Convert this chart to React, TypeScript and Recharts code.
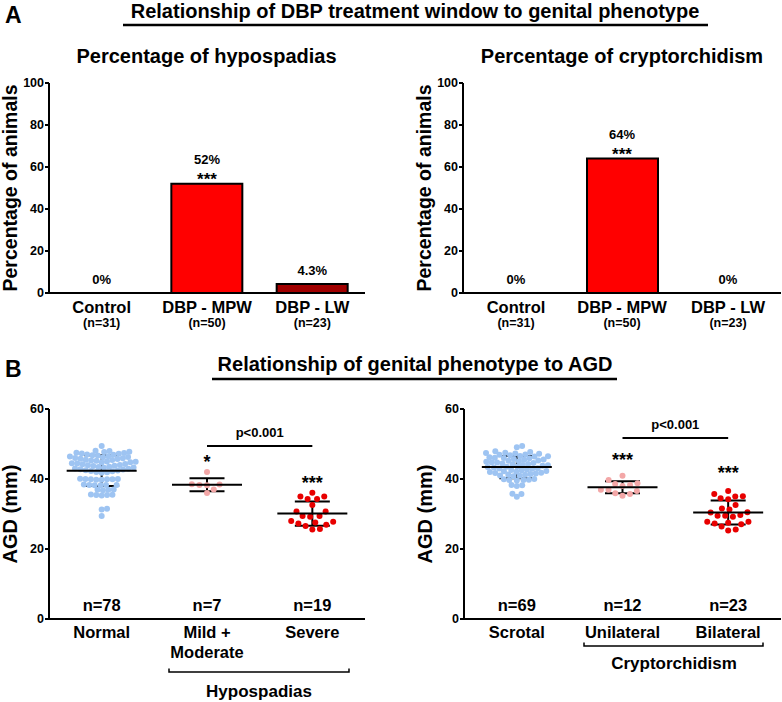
import React from "react";
import {
  ComposedChart,
  Bar,
  Line,
  XAxis,
  YAxis,
  Cell,
  ScatterChart,
  Scatter,
  ErrorBar,
  ReferenceLine,
} from "recharts";

const FONT = '"Liberation Sans", Arial, Helvetica, sans-serif';

// ---- panel A data ----
const treatGroups = ["Control", "DBP - MPW", "DBP - LW"];
const treatN = ["(n=31)", "(n=50)", "(n=23)"];
const hypoPct = [0, 52, 4.3];
const hypoText = ["0%", "52%", "4.3%"];
const hypoStars = ["", "***", ""];
const cryptoPct = [0, 64, 0];
const cryptoText = ["0%", "64%", "0%"];
const cryptoStars = ["", "***", ""];
const barFills = ["#ff0000", "#ff0000", "#a10000"];
const pctTicks = [0, 20, 40, 60, 80, 100];

// ---- panel B data ----
const hypoGroups = [["Normal"], ["Mild +", "Moderate"], ["Severe"]];
const hypoN = ["n=78", "n=7", "n=19"];
const normalAgd = [
  29.4, 31.3, 31.5, 35.3, 35.4, 35.4, 35.5, 35.6, 36.8, 36.9, 37.0, 36.9,
  38.2, 38.3, 38.3, 38.4, 38.2, 38.3, 39.8, 39.9, 40.0, 39.9, 40.1, 39.8,
  40.0, 39.9, 49.4, 48.0, 48.1, 41.8, 41.9, 42.0, 42.2, 42.3, 42.4, 42.5,
  42.7, 42.8, 42.9, 43.0, 43.2, 43.3, 43.4, 43.5, 43.7, 43.8, 43.9, 44.0,
  44.2, 44.3, 44.4, 44.5, 44.7, 44.8, 44.9, 45.0, 45.2, 45.3, 45.4, 45.5,
  45.7, 45.8, 45.9, 46.0, 46.2, 46.3, 46.4, 46.5, 46.7, 46.8, 46.9, 47.0,
  47.2, 47.3, 47.4, 47.5, 47.7, 47.8,
];
const mildAgd = [42.0, 38.5, 38.4, 38.3, 38.2, 37.0, 36.0];
const severeAgd = [
  35.0, 34.3, 32.6, 34.3, 35.0, 36.1, 30.7, 30.7, 29.4, 29.2, 29.4, 27.8,
  27.3, 28.0, 27.6, 26.6, 26.9, 25.6, 25.7,
];
const hypoSig = ["", "*", "***"];
const hypoSigAt = [0, 46.0, 40.0];
const hypoPLine = 49.4;

const cryptoGroups = [["Scrotal"], ["Unilateral"], ["Bilateral"]];
const cryptoN = ["n=69", "n=12", "n=23"];
const scrotalAgd = [
  34.9, 35.7, 35.8, 38.2, 38.3, 38.0, 39.6, 39.7, 39.8, 39.9, 40.0, 39.7,
  49.4, 49.1, 40.8, 40.9, 41.0, 41.2, 41.3, 41.4, 41.6, 41.7, 41.8, 42.0,
  42.1, 42.2, 42.3, 42.5, 42.6, 42.7, 42.9, 43.0, 43.1, 43.3, 43.4, 43.5,
  43.6, 43.8, 43.9, 44.0, 44.2, 44.3, 44.4, 44.6, 44.7, 44.8, 44.9, 45.1,
  45.2, 45.3, 45.5, 45.6, 45.7, 45.9, 46.0, 46.1, 46.2, 46.4, 46.5, 46.6,
  46.8, 46.9, 47.0, 47.2, 47.3, 47.4, 47.5, 47.7, 47.9,
];
const uniAgd = [40.9, 39.7, 38.8, 38.3, 38.6, 38.0, 36.9, 36.9, 36.6, 35.9, 35.7, 35.2];
const biAgd = [
  36.6, 35.1, 34.5, 34.2, 35.0, 35.7, 32.6, 31.3, 31.6, 30.4, 30.5, 29.7,
  29.5, 29.2, 29.5, 27.8, 27.1, 27.8, 27.3, 27.5, 26.4, 25.3, 25.6,
];
const cryptoSig = ["", "***", "***"];
const cryptoSigAt = [0, 46.6, 42.9];
const cryptoPLine = 51.7;

const dotFills = ["#9ec4f2", "#f3a7a7", "#e80000"];
const agdTicks = [0, 20, 40, 60];

// pixel size of one unit on the scatter axes (plot 210px tall for 60, ~316px wide for 3 groups)
const Y_PX = 210 / 60;
const X_PX = 316 / 3;
const DOT_R = 3;
// dot spacing used by the swarm: tight for the big groups, looser for the small ones
const SWARM_D = [5.4, 7.6, 7.6];

// simple beeswarm: ascending order, each dot as close to centre as it can go
function swarm(values: number[], d: number): number[] {
  const order = values.map((_, i) => i).sort((a, b) => values[a] - values[b]);
  const placed: { x: number; y: number }[] = [];
  const out = new Array(values.length).fill(0);
  order.forEach((i) => {
    const y = values[i] * Y_PX;
    const near = placed.filter((p) => Math.abs(p.y - y) < d);
    const cands = [0];
    near.forEach((p) => {
      const dx = Math.sqrt(d * d - (p.y - y) * (p.y - y));
      cands.push(p.x + dx, p.x - dx);
    });
    cands.sort((a, b) => Math.abs(a) - Math.abs(b));
    const x =
      cands.find((c) => near.every((p) => (p.x - c) ** 2 + (p.y - y) ** 2 >= d * d - 1e-6)) ?? 0;
    placed.push({ x, y });
    out[i] = x;
  });
  return out;
}

const mean = (v: number[]) => v.reduce((s, a) => s + a, 0) / v.length;
const sd = (v: number[]) => {
  const m = mean(v);
  return Math.sqrt(v.reduce((s, a) => s + (a - m) ** 2, 0) / (v.length - 1));
};

const txt = { fontFamily: FONT, fontWeight: "bold" as const, fill: "#000" };

function TreatTick(props: any) {
  const { x, y, payload } = props;
  const i = treatGroups.indexOf(payload.value);
  return (
    <g>
      <text x={x} y={y + 20} textAnchor="middle" fontSize={16.5} {...txt}>
        {treatGroups[i]}
      </text>
      <text x={x} y={y + 34} textAnchor="middle" fontSize={12.5} {...txt}>
        {treatN[i]}
      </text>
    </g>
  );
}

function PercentChart({ left, width, mLeft, right, pct, texts, stars }: any) {
  const data = treatGroups.map((g, i) => ({ name: g, v: pct[i] }));
  // value labels drawn as the dots of an invisible line, so zero bars get theirs too
  const labelDot = (p: any) => {
    const i = treatGroups.indexOf(p.payload.name);
    const s = stars[i];
    return (
      <g key={i}>
        {s ? (
          <text x={p.cx} y={p.cy + 1} textAnchor="middle" fontSize={17} {...txt}>
            {s}
          </text>
        ) : null}
        <text x={p.cx} y={s ? p.cy - 20 : p.cy - 9} textAnchor="middle" fontSize={13} {...txt}>
          {texts[i]}
        </text>
      </g>
    );
  };
  return (
    <div style={{ position: "absolute", left, top: 40 }}>
      <ComposedChart
        width={width}
        height={300}
        data={data}
        margin={{ top: 43, right, left: mLeft, bottom: 0 }}
      >
        <XAxis
          dataKey="name"
          height={47}
          tickSize={0}
          tickMargin={0}
          tickLine={false}
          axisLine={{ stroke: "#000", strokeWidth: 2 }}
          tick={<TreatTick />}
          interval={0}
        />
        <YAxis
          width={49}
          domain={[0, 100]}
          ticks={pctTicks}
          tickSize={4}
          tickMargin={1}
          axisLine={{ stroke: "#000", strokeWidth: 2 }}
          tickLine={{ stroke: "#000", strokeWidth: 2 }}
          tick={{ fontSize: 12.5, ...txt }}
          label={{
            value: "Percentage of animals",
            angle: -90,
            position: "insideLeft",
            offset: 10,
            style: { textAnchor: "middle", fontSize: 19.5, ...txt },
          }}
        />
        <Bar dataKey="v" barSize={71} stroke="#000" strokeWidth={2} isAnimationActive={false}>
          {data.map((_, i) => (
            <Cell key={i} fill={barFills[i]} />
          ))}
        </Bar>
        <Line
          dataKey="v"
          stroke="none"
          dot={labelDot}
          activeDot={false}
          legendType="none"
          isAnimationActive={false}
        />
      </ComposedChart>
    </div>
  );
}

function AgdChart({ left, width, mLeft, right, groups, labels, nText, sig, sigAt, pLine }: any) {
  const sets = groups.map((vals: number[], g: number) => {
    const off = swarm(vals, SWARM_D[g]);
    return vals.map((v, i) => ({ x: g + off[i] / X_PX, y: v }));
  });
  const stats = groups.map((vals: number[], g: number) => ({ x: g, y: mean(vals), sd: sd(vals) }));
  const nData = nText.map((t: string, g: number) => ({ x: g, y: 0, t }));
  const sigData = sig
    .map((t: string, g: number) => ({ x: g, y: sigAt[g], t }))
    .filter((d: any) => d.t);

  const Tick = (p: any) => {
    const lines: string[] = labels[Math.round(p.payload.value)] || [];
    return (
      <g>
        {lines.map((l, k) => (
          <text key={k} x={p.x} y={p.y + 19 + k * 20} textAnchor="middle" fontSize={16.5} {...txt}>
            {l}
          </text>
        ))}
      </g>
    );
  };

  return (
    <div style={{ position: "absolute", left, top: 370 }}>
      <ScatterChart width={width} height={310} margin={{ top: 39, right, left: mLeft, bottom: 0 }}>
        <XAxis
          type="number"
          dataKey="x"
          domain={[-0.5, 2.5]}
          ticks={[0, 1, 2]}
          height={61}
          tickSize={0}
          tickMargin={0}
          tickLine={false}
          axisLine={{ stroke: "#000", strokeWidth: 2 }}
          tick={<Tick />}
          interval={0}
        />
        <YAxis
          type="number"
          dataKey="y"
          width={49}
          domain={[0, 60]}
          ticks={agdTicks}
          tickSize={4}
          tickMargin={1}
          axisLine={{ stroke: "#000", strokeWidth: 2 }}
          tickLine={{ stroke: "#000", strokeWidth: 2 }}
          tick={{ fontSize: 12.5, ...txt }}
          label={{
            value: "AGD (mm)",
            angle: -90,
            position: "insideLeft",
            offset: 10,
            style: { textAnchor: "middle", fontSize: 20, ...txt },
          }}
        />
        {sets.map((pts: any[], g: number) => (
          <Scatter
            key={g}
            data={pts}
            fill={dotFills[g]}
            isAnimationActive={false}
            shape={(p: any) => <circle cx={p.cx} cy={p.cy} r={DOT_R} fill={dotFills[g]} />}
          />
        ))}
        <Scatter
          data={stats}
          isAnimationActive={false}
          shape={(p: any) => (
            <line x1={p.cx - 35} x2={p.cx + 35} y1={p.cy} y2={p.cy} stroke="#000" strokeWidth={2} />
          )}
        >
          <ErrorBar dataKey="sd" direction="y" width={17.5} stroke="#000" strokeWidth={2} isAnimationActive={false} />
        </Scatter>
        <Scatter
          data={nData}
          isAnimationActive={false}
          shape={(p: any) => (
            <text x={p.cx} y={p.cy - 8} textAnchor="middle" fontSize={16.5} {...txt}>
              {p.payload.t}
            </text>
          )}
        />
        <Scatter
          data={sigData}
          isAnimationActive={false}
          shape={(p: any) => (
            <text x={p.cx} y={p.cy + 10} textAnchor="middle" fontSize={18} {...txt}>
              {p.payload.t}
            </text>
          )}
        />
        <ReferenceLine
          segment={[
            { x: 1, y: pLine },
            { x: 2, y: pLine },
          ]}
          stroke="#000"
          strokeWidth={2}
          label={{ value: "p<0.001", position: "top", offset: 9, fontSize: 13, ...txt }}
        />
      </ScatterChart>
    </div>
  );
}

export default function App() {
  return (
    <div
      style={{
        position: "absolute",
        left: 0,
        top: 0,
        width: 782,
        height: 702,
        background: "#fff",
        fontFamily: FONT,
      }}
    >
      <PercentChart left={0} width={370} mLeft={0} right={5} pct={hypoPct} texts={hypoText} stars={hypoStars} />
      <PercentChart left={403} width={379} mLeft={11} right={1} pct={cryptoPct} texts={cryptoText} stars={cryptoStars} />
      <AgdChart
        left={0}
        width={370}
        mLeft={0}
        right={5}
        groups={[normalAgd, mildAgd, severeAgd]}
        labels={hypoGroups}
        nText={hypoN}
        sig={hypoSig}
        sigAt={hypoSigAt}
        pLine={hypoPLine}
      />
      <AgdChart
        left={404}
        width={378}
        mLeft={11}
        right={1}
        groups={[scrotalAgd, uniAgd, biAgd]}
        labels={cryptoGroups}
        nText={cryptoN}
        sig={cryptoSig}
        sigAt={cryptoSigAt}
        pLine={cryptoPLine}
      />
      <svg
        width={782}
        height={702}
        style={{ position: "absolute", left: 0, top: 0, pointerEvents: "none" }}
      >
        <text x={5} y={23} fontSize={23} {...txt}>A</text>
        <text x={415} y={18} textAnchor="middle" fontSize={20} {...txt}>
          Relationship of DBP treatment window to genital phenotype
        </text>
        <line x1={123} x2={708} y1={25} y2={25} stroke="#000" strokeWidth={2.3} />
        <text x={206.5} y={63} textAnchor="middle" fontSize={20} {...txt}>
          Percentage of hypospadias
        </text>
        <text x={622} y={63} textAnchor="middle" fontSize={20} {...txt}>
          Percentage of cryptorchidism
        </text>

        <text x={5} y={377} fontSize={23} {...txt}>B</text>
        <text x={415} y={371} textAnchor="middle" fontSize={20} {...txt}>
          Relationship of genital phenotype to AGD
        </text>
        <line x1={212} x2={617} y1={379} y2={379} stroke="#000" strokeWidth={2.3} />

        <path d="M169,668.5 L169,672 L349,672 L349,668.5" fill="none" stroke="#000" strokeWidth={1.5} />
        <text x={259} y={697} textAnchor="middle" fontSize={17} {...txt}>Hypospadias</text>
        <path d="M584,642.5 L584,646 L763,646 L763,642.5" fill="none" stroke="#000" strokeWidth={1.5} />
        <text x={674} y={669} textAnchor="middle" fontSize={17} {...txt}>Cryptorchidism</text>
      </svg>
    </div>
  );
}
